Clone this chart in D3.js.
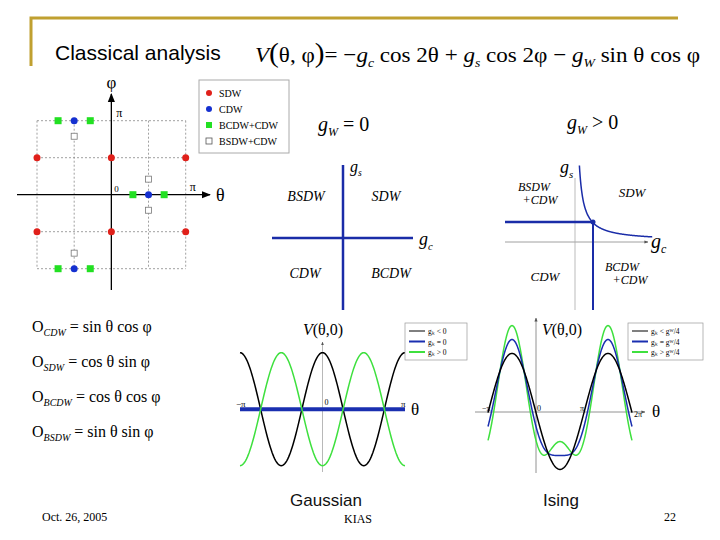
<!DOCTYPE html>
<html><head><meta charset="utf-8">
<script src="https://cdn.jsdelivr.net/npm/d3@7"></script>
<style>body{margin:0;background:#fff}</style></head>
<body><svg id="s" width="720" height="540"></svg>
<script>
// ---- data ----
const PI = Math.PI;
const sdwPoints = [[-PI,PI/2],[0,PI/2],[PI,PI/2],[-PI,-PI/2],[0,-PI/2],[PI,-PI/2]];
const cdwPoints = [[-PI/2,PI],[-PI/2,-PI],[PI/2,0]];
const bcdwPoints = [[-PI/2-0.68,PI],[-PI/2+0.68,PI],[-PI/2-0.68,-PI],[-PI/2+0.68,-PI],[PI/2-0.66,0],[PI/2+0.66,0]];
const bsdwPoints = [[-PI/2,PI-0.66],[-PI/2,-PI+0.66],[PI/2,0.66],[PI/2,-0.66]];
const legendLabels = ["SDW","CDW","BCDW+CDW","BSDW+CDW"];
const gaussLabels = ["g\u2096 < 0","g\u2096 = 0","g\u2096 > 0"];
const gaussAmp = [-1, 0, 1];
const gaussColors = ["#000","#1a2fb0","#3ee03e"];
const isingLabels = ["g\u2096 < g\u1d42/4","g\u2096 = g\u1d42/4","g\u2096 > g\u1d42/4"];
const isingGW = [1.0, 1.0, 1.0];
const isingGc = [0.01, 0.25, 0.49];
const isingColors = ["#000","#1a2fb0","#3ee03e"];
const opLabels = [["CDW","= sin θ cos φ"],["SDW","= cos θ sin φ"],["BCDW","= cos θ cos φ"],["BSDW","= sin θ sin φ"]];

const svg = d3.select("#s");
const serif = "Liberation Serif, Times New Roman, serif";
const sans = "Liberation Sans, Arial, sans-serif";

svg.append("path").attr("d","M31,66V18H678").attr("fill","none").attr("stroke","#c0a030").attr("stroke-width",3);
svg.append("text").attr("x",55).attr("y",60).attr("font-family",sans).attr("font-size",21).text("Classical analysis");
const f = svg.append("text").attr("x",255).attr("y",62).attr("font-family",serif).attr("font-size",22).attr("textLength",445).attr("lengthAdjust","spacingAndGlyphs");
f.append("tspan").attr("font-style","italic").text("V");
f.append("tspan").attr("font-size",28).text("(");
f.append("tspan").text("θ, φ");
f.append("tspan").attr("font-size",28).text(")");
f.append("tspan").text("= −");
f.append("tspan").attr("font-style","italic").text("g");
f.append("tspan").attr("font-style","italic").attr("font-size",13).attr("dy",5).text("c");
f.append("tspan").attr("dy",-5).text(" cos 2θ + ");
f.append("tspan").attr("font-style","italic").text("g");
f.append("tspan").attr("font-style","italic").attr("font-size",13).attr("dy",5).text("s");
f.append("tspan").attr("dy",-5).text(" cos 2φ − ");
f.append("tspan").attr("font-style","italic").text("g");
f.append("tspan").attr("font-style","italic").attr("font-size",13).attr("dy",5).text("W");
f.append("tspan").attr("dy",-5).text(" sin θ cos φ");

// ---- top-left phase diagram ----
const x1 = d3.scaleLinear().domain([-PI,PI]).range([37,185.7]);
const y1 = d3.scaleLinear().domain([-PI,PI]).range([268.7,120.7]);
const g1 = svg.append("g");
const gridV = [-PI,-PI/2,PI/2,PI], gridH=[-PI,-PI/2,PI/2,PI];
gridV.forEach(v=>g1.append("line").attr("x1",x1(v)).attr("x2",x1(v)).attr("y1",y1(PI)).attr("y2",y1(-PI)).attr("stroke","#888").attr("stroke-dasharray","2,2").attr("stroke-width",0.8));
gridH.forEach(v=>g1.append("line").attr("y1",y1(v)).attr("y2",y1(v)).attr("x1",x1(-PI)).attr("x2",x1(PI)).attr("stroke","#888").attr("stroke-dasharray","2,2").attr("stroke-width",0.8));
svg.append("defs").html('<marker id="ar" viewBox="0 0 10 10" refX="9" refY="5" markerWidth="7" markerHeight="7" orient="auto"><path d="M0,1L10,5L0,9z" fill="#000"/></marker><marker id="ar2" viewBox="0 0 10 10" refX="9" refY="5" markerWidth="5" markerHeight="5" orient="auto"><path d="M0,1L10,5L0,9z" fill="#555"/></marker>');
g1.append("line").attr("x1",17).attr("x2",210).attr("y1",y1(0)).attr("y2",y1(0)).attr("stroke","#000").attr("stroke-width",1.3).attr("marker-end","url(#ar)");
g1.append("line").attr("x1",x1(0)).attr("x2",x1(0)).attr("y1",290).attr("y2",94).attr("stroke","#000").attr("stroke-width",1.3).attr("marker-end","url(#ar)");
g1.append("text").attr("x",x1(0)).attr("y",88).attr("text-anchor","middle").attr("font-family",serif).attr("font-size",17).text("φ");
g1.append("text").attr("x",216).attr("y",y1(0)+6).attr("font-family",serif).attr("font-size",18).text("θ");
g1.append("text").attr("x",x1(0)+5).attr("y",y1(PI)-4).attr("font-family",serif).attr("font-size",12).text("π");
g1.append("text").attr("x",x1(PI)+4).attr("y",y1(0)-4).attr("font-family",serif).attr("font-size",12).text("π");
g1.append("text").attr("x",x1(0)+3).attr("y",y1(0)-3).attr("font-family",serif).attr("font-size",9).text("0");
g1.selectAll(".sdw").data(sdwPoints).join("circle").attr("cx",d=>x1(d[0])).attr("cy",d=>y1(d[1])).attr("r",3.5).attr("fill","#e0201a");
g1.selectAll(".cdw").data(cdwPoints).join("circle").attr("cx",d=>x1(d[0])).attr("cy",d=>y1(d[1])).attr("r",3.5).attr("fill","#1530d0");
g1.selectAll(".bc").data(bcdwPoints).join("rect").attr("x",d=>x1(d[0])-3.5).attr("y",d=>y1(d[1])-3.5).attr("width",7).attr("height",7).attr("fill","#22e022");
g1.selectAll(".bs").data(bsdwPoints).join("rect").attr("x",d=>x1(d[0])-3).attr("y",d=>y1(d[1])-3).attr("width",6).attr("height",6).attr("fill","#fff").attr("stroke","#777").attr("stroke-width",0.8);
const lg = g1.append("g").attr("transform","translate(199,80)");
lg.append("rect").attr("width",90).attr("height",73).attr("fill","#fff").attr("stroke","#aaa");
legendLabels.forEach((l,i)=>{
  const yy=13+i*16;
  if(i<2) lg.append("circle").attr("cx",10).attr("cy",yy).attr("r",3).attr("fill",i==0?"#e0201a":"#1530d0");
  else lg.append("rect").attr("x",7).attr("y",yy-3).attr("width",6).attr("height",6).attr("fill",i==2?"#22e022":"#fff").attr("stroke",i==2?"none":"#555").attr("stroke-width",0.8);
  lg.append("text").attr("x",20).attr("y",yy+4).attr("font-family",serif).attr("font-size",10).text(l);
});

function ital(x,y,txt,size,anchor){svg.append("text").attr("x",x).attr("y",y).attr("font-family",serif).attr("font-style","italic").attr("font-size",size).attr("text-anchor",anchor||"middle").text(txt);}
function gsub(x,y,main,sub,size,tail){const t=svg.append("text").attr("x",x).attr("y",y).attr("font-family",serif).attr("font-style","italic").attr("font-size",size);t.append("tspan").text(main);t.append("tspan").attr("font-size",size*0.6).attr("dy",size*0.25).text(sub);if(tail)t.append("tspan").attr("font-style","normal").attr("dy",-size*0.25).text(tail);}

// ---- gW = 0 ----
gsub(318,131,"g","W",20," = 0");
const blue="#1a2ca8";
svg.append("line").attr("x1",272).attr("x2",413).attr("y1",238).attr("y2",238).attr("stroke",blue).attr("stroke-width",2.5);
svg.append("line").attr("x1",343).attr("x2",343).attr("y1",165).attr("y2",310).attr("stroke",blue).attr("stroke-width",2.5);
gsub(350,172,"g","s",16);gsub(419,245,"g","c",18);
ital(306,201,"BSDW",14);ital(386,201,"SDW",14);ital(305,278,"CDW",14);ital(391,278,"BCDW",14);

// ---- gW > 0 ----
gsub(567,129,"g","W",20," > 0");
svg.append("line").attr("x1",505).attr("x2",648).attr("y1",242).attr("y2",242).attr("stroke","#888").attr("stroke-width",0.8).attr("marker-end","url(#ar2)");
svg.append("line").attr("x1",575).attr("x2",575).attr("y1",178).attr("y2",310).attr("stroke","#aaa").attr("stroke-width",0.8);
svg.append("line").attr("x1",505).attr("x2",593).attr("y1",222).attr("y2",222).attr("stroke",blue).attr("stroke-width",2.5);
svg.append("line").attr("x1",593).attr("x2",593).attr("y1",222).attr("y2",310).attr("stroke",blue).attr("stroke-width",2);
const hx = d3.scaleLinear().domain([0,1]).range([575,655]);
const hy = d3.scaleLinear().domain([0,1]).range([242,162]);
const hyp = d3.range(0.05,0.97,0.005).map(t=>[t,0.052/t+0.01]).filter(d=>d[1]<=1.0);
svg.append("path").attr("d",d3.line().x(d=>hx(d[0])).y(d=>hy(d[1])).curve(d3.curveBasis)(hyp)).attr("fill","none").attr("stroke",blue).attr("stroke-width",1.5);
svg.append("circle").attr("cx",593).attr("cy",222).attr("r",2.5).attr("fill",blue);
gsub(560,173,"g","s",18);gsub(651,248,"g","c",20);
ital(534,191,"BSDW",12);ital(540,204,"+CDW",12);ital(632,197,"SDW",13);ital(545,281,"CDW",13);ital(622,271,"BCDW",12);ital(630,284,"+CDW",12);

// ---- order parameters ----
opLabels.forEach((o,i)=>{
  const t=svg.append("text").attr("x",32).attr("y",332+i*35).attr("font-family",serif).attr("font-size",16);
  t.append("tspan").text("O");t.append("tspan").attr("font-size",10).attr("font-style","italic").attr("dy",4).text(o[0]);
  t.append("tspan").attr("dy",-4).text(" "+o[1]);
});

function vlabel(x,y){const t=svg.append("text").attr("x",x).attr("y",y).attr("font-family",serif).attr("font-size",16);t.append("tspan").attr("font-style","italic").text("V");t.append("tspan").text("(θ,0)");}
function legend(x,y,w,labels,colors){
  const L=svg.append("g").attr("transform",`translate(${x},${y})`);
  L.append("rect").attr("width",w).attr("height",37).attr("fill","#fff").attr("stroke","#999").attr("stroke-width",0.7);
  labels.forEach((l,i)=>{L.append("line").attr("x1",4).attr("x2",20).attr("y1",8+i*10.5).attr("y2",8+i*10.5).attr("stroke",colors[i]).attr("stroke-width",i==0?1:2);
    L.append("text").attr("x",23).attr("y",11+i*10.5).attr("font-family",serif).attr("font-size",7.5).text(l);});
}

// ---- Gaussian plot ----
const xg = d3.scaleLinear().domain([-PI,PI]).range([240,405]);
const yg = d3.scaleLinear().domain([-1,1]).range([465.7,352.7]);
svg.append("line").attr("x1",xg(0)).attr("x2",xg(0)).attr("y1",472).attr("y2",342).attr("stroke","#999").attr("stroke-width",0.7).attr("marker-end","url(#ar2)");
const th = d3.range(-PI,PI+0.001,PI/90);
gaussAmp.forEach((a,i)=>{
  svg.append("path").attr("d",d3.line().x(t=>xg(t)).y(t=>yg(-a*Math.cos(2*t)))(th)).attr("fill","none").attr("stroke",gaussColors[i]).attr("stroke-width",a==0?4:1.5);
});
svg.append("text").attr("x",236).attr("y",407).attr("font-family",serif).attr("font-size",9).text("−π");
svg.append("text").attr("x",401).attr("y",407).attr("font-family",serif).attr("font-size",9).text("π");
svg.append("text").attr("x",xg(0)+2).attr("y",405).attr("font-family",serif).attr("font-size",8).text("0");
svg.append("text").attr("x",411).attr("y",415).attr("font-family",serif).attr("font-size",17).text("θ");
vlabel(303,335);
legend(405,323,62,gaussLabels,gaussColors);

// ---- Ising plot ----
const xi = d3.scaleLinear().domain([0,PI]).range([536,584]);
const yi = d3.scaleLinear().domain([-1,1]).range([470,354]);
svg.append("line").attr("x1",475).attr("x2",645).attr("y1",yi(0)).attr("y2",yi(0)).attr("stroke","#777").attr("stroke-width",0.8).attr("marker-end","url(#ar2)");
svg.append("line").attr("x1",xi(0)).attr("x2",xi(0)).attr("y1",473).attr("y2",318).attr("stroke","#777").attr("stroke-width",0.8).attr("marker-end","url(#ar2)");
const th2 = d3.range(-PI,2*PI+0.001,PI/120);
[2,1,0].forEach(i=>{
  svg.append("path").attr("d",d3.line().x(t=>xi(t)).y(t=>yi(-isingGW[i]*Math.sin(t)-isingGc[i]*Math.cos(2*t)))(th2)).attr("fill","none").attr("stroke",isingColors[i]).attr("stroke-width",1.5);
});
svg.append("text").attr("x",482).attr("y",411).attr("font-family",serif).attr("font-size",8).text("−π");
svg.append("text").attr("x",537).attr("y",411).attr("font-family",serif).attr("font-size",8).text("0");
svg.append("text").attr("x",580).attr("y",411).attr("font-family",serif).attr("font-size",8).text("π");
svg.append("text").attr("x",634).attr("y",417).attr("font-family",serif).attr("font-size",8).text("2π");
svg.append("text").attr("x",652).attr("y",417).attr("font-family",serif).attr("font-size",17).text("θ");
vlabel(542,335);
legend(628,323,75,isingLabels,isingColors);

// ---- footer ----
svg.append("text").attr("x",326).attr("y",506).attr("text-anchor","middle").attr("font-family",sans).attr("font-size",17).attr("fill","#111").text("Gaussian");
svg.append("text").attr("x",561).attr("y",506).attr("text-anchor","middle").attr("font-family",sans).attr("font-size",17).attr("fill","#111").text("Ising");
svg.append("text").attr("x",42).attr("y",521).attr("font-family",serif).attr("font-size",12).text("Oct. 26, 2005");
svg.append("text").attr("x",358).attr("y",523).attr("text-anchor","middle").attr("font-family",serif).attr("font-size",12).text("KIAS");
svg.append("text").attr("x",670).attr("y",521).attr("text-anchor","middle").attr("font-family",serif).attr("font-size",12).text("22");
</script></body></html>
